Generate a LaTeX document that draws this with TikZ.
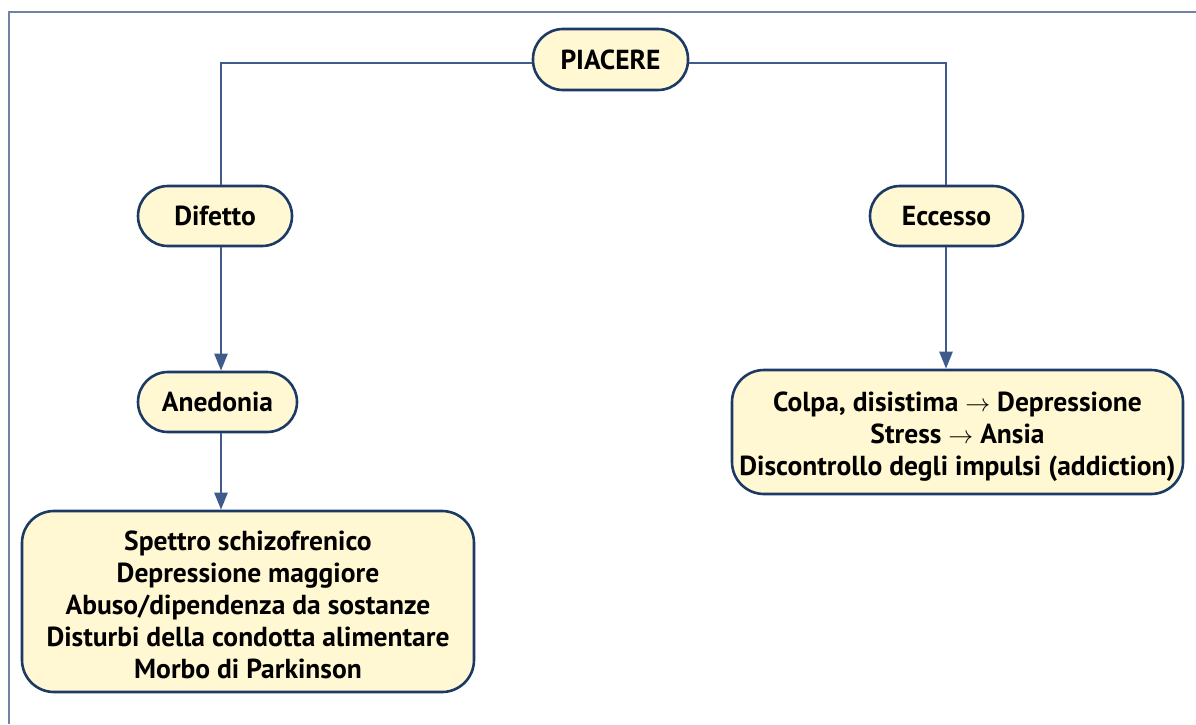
\documentclass[tikz,border=0pt]{standalone}
\usepackage{fontspec}
\setmainfont{PT Sans}
\usetikzlibrary{arrows.meta,positioning}
\definecolor{framecol}{HTML}{7083A3}
\definecolor{linkcol}{HTML}{3F5B8C}
\definecolor{edgecol}{HTML}{1C3A66}
\definecolor{fillcol}{HTML}{FFF8D2}
\newcommand{\toarrow}{\ensuremath{\rightarrow}}
\tikzset{
  x=1pt, y=-1pt,
  box/.style={draw=edgecol, line width=2.6pt, fill=fillcol, rounded corners=#1,
    align=center, font=\fontsize{27.5}{32}\selectfont\bfseries, inner sep=0pt},
  box/.default=28pt,
  link/.style={draw=linkcol, line width=2.4pt},
  arr/.style={link, -{Triangle[width=13pt,length=17pt]}}
}
\begin{document}
\begin{tikzpicture}
\useasboundingbox (0,0) rectangle (1196,724);
% outer frame (only the top and left edges are visible)
\draw[framecol, line width=2pt] (8.5,724) -- (8.5,11.5) -- (1196,11.5);

% nodes
\node[box=30pt, minimum width=155pt, minimum height=61pt] (piacere) at (610.5,59.5) {PIACERE};
\node[box=30pt, minimum width=154pt, minimum height=60pt] (difetto) at (215,216) {Difetto};
\node[box=30pt, minimum width=153pt, minimum height=60pt] (eccesso) at (946.5,216) {Eccesso};
\node[box=30pt, minimum width=159pt, minimum height=60pt] (anedonia) at (217.5,402) {Anedonia};
\node[box=32pt, minimum width=452pt, minimum height=181pt] (spettro) at (248,601.5)
  {\rule{0pt}{26pt}Spettro schizofrenico\\Depressione maggiore\\Abuso/dipendenza da sostanze\\Disturbi della condotta alimentare\\Morbo di Parkinson};
\node[box=32pt, minimum width=451pt, minimum height=124pt] (colpa) at (957.5,432)
  {\rule{0pt}{30pt}Colpa, disistima \toarrow{} Depressione\\Stress \toarrow{} Ansia\\Discontrollo degli impulsi (addiction)};

% connectors
\coordinate (lc) at (221,63);
\coordinate (rc) at (946,63);
\draw[link] (piacere.west |- lc) -- (lc) -- (lc |- difetto.north);
\draw[link] (piacere.east |- rc) -- (rc) -- (rc |- eccesso.north);
\draw[arr] (lc |- difetto.south) -- (lc |- anedonia.north);
\draw[arr] (lc |- anedonia.south) -- (lc |- spettro.north);
\draw[arr] (rc |- eccesso.south) -- (rc |- colpa.north);
\end{tikzpicture}
\end{document}
